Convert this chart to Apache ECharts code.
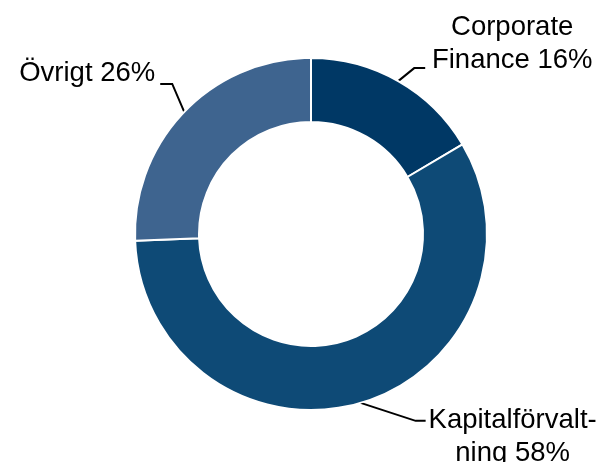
<!DOCTYPE html>
<html>
<head>
<meta charset="utf-8">
<script src="https://cdn.jsdelivr.net/npm/echarts@6/dist/echarts.min.js"></script>
<style>
html, body { margin: 0; padding: 0; background: #fff; }
#chart { width: 603px; height: 462px; }
</style>
</head>
<body>
<div id="chart"></div>
<script>
var categories = ['Corporate Finance', 'Kapitalförvaltning', 'Övrigt'];
// shares as drawn (labels show the rounded figures)
var values = [16.5, 57.9, 25.6];
var labelLines = [['Corporate', 'Finance 16%'], ['Kapitalförvalt-', 'ning 58%'], ['Övrigt 26%']];
var colors = ['#003865', '#0e4a76', '#3e648f'];

// label line bends, relative to where the line leaves the ring
var guides = [
	{elbow: [16, -13], end: [27, -13], align: 'left', vAlign: 'bottom', dy: 9},
	{elbow: [55, 18], end: [65, 18], align: 'left', vAlign: 'top', dy: -17},
	{elbow: [-12, -28], end: [-24, -28], align: 'right', vAlign: 'middle', dy: -10}
];

var pieData = categories.map(function (name, i) {
	return {name: name, value: values[i], itemStyle: {color: colors[i]}};
});

var chart = echarts.init(document.getElementById('chart'), null, {renderer: 'canvas'});

var font = '"Liberation Sans", Arial, sans-serif';

var option = {
	animation: false,
	series: [{
		type: 'pie',
		center: [311, 234],
		radius: [112, 176],
		startAngle: 90,
		clockwise: true,
		avoidLabelOverlap: false,
		data: pieData,
		itemStyle: {borderColor: '#fff', borderWidth: 2},
		emphasis: {disabled: true},
		label: {
			show: true,
			position: 'outside',
			formatter: function (p) {
				var lines = labelLines[p.dataIndex];
				var key = lines.length > 1 ? 't' : 's';
				return lines.map(function (l) { return '{' + key + '|' + l + '}'; }).join('\n');
			},
			rich: {
				t: {width: 164, align: 'center', fontSize: 27.5, lineHeight: 33, color: '#000', fontFamily: font},
				s: {fontSize: 27.5, lineHeight: 33, color: '#000', fontFamily: font}
			}
		},
		labelLine: {
			show: true,
			length: 15,
			length2: 12,
			lineStyle: {color: '#000', width: 2}
		},
		labelLayout: function (params) {
			var g = guides[params.dataIndex];
			var p0 = params.labelLinePoints[0];
			var elbow = [p0[0] + g.elbow[0], p0[1] + g.elbow[1]];
			var end = [p0[0] + g.end[0], p0[1] + g.end[1]];
			return {
				x: end[0] + (g.align === 'left' ? 5 : -5),
				y: end[1] + g.dy,
				align: g.align,
				verticalAlign: g.vAlign,
				labelLinePoints: [p0, elbow, end]
			};
		}
	}]
};

chart.setOption(option);
</script>
</body>
</html>
